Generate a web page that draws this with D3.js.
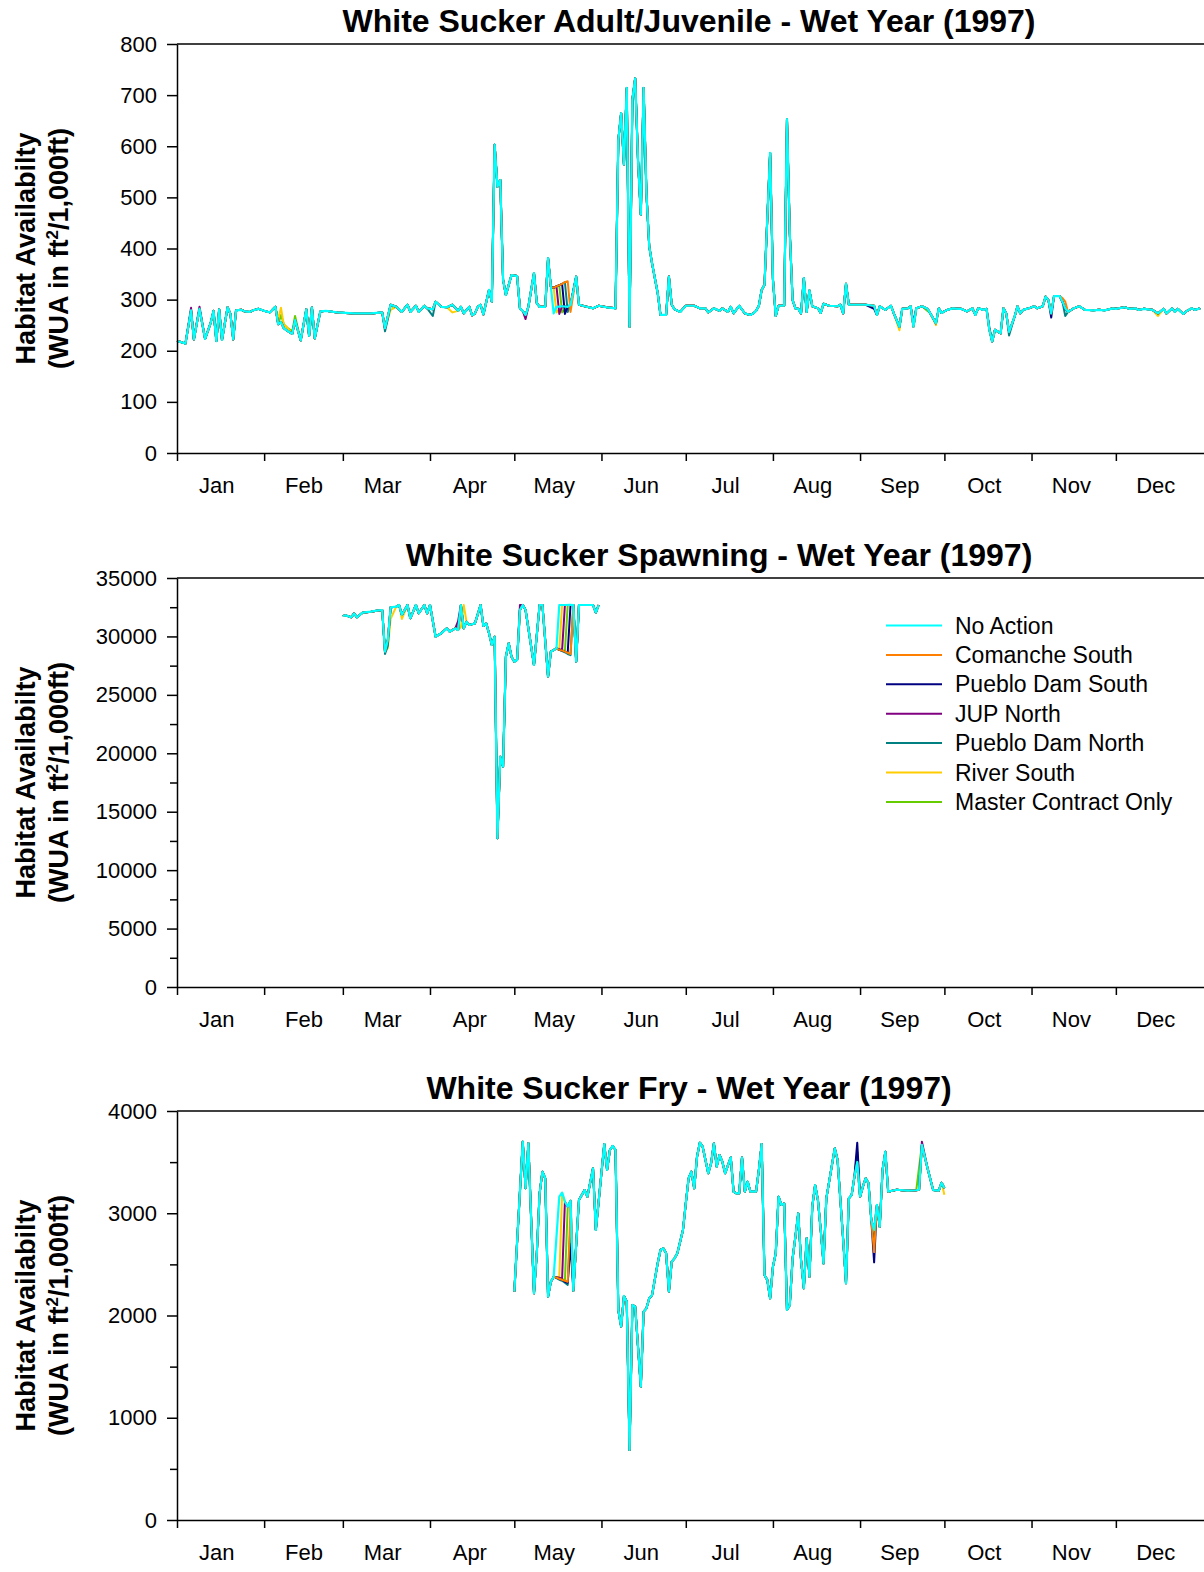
<!DOCTYPE html>
<html><head><meta charset="utf-8">
<script src="https://cdn.jsdelivr.net/npm/d3@7"></script>
<style>
body{margin:0;background:#fff}
svg text{font-family:Arial,"Liberation Sans",sans-serif;fill:#000}
</style>
</head><body>
<svg id="chart" width="1204" height="1572"></svg>
<script>
// ---------------- DATA ----------------
const monthLabels = ["Jan","Feb","Mar","Apr","May","Jun","Jul","Aug","Sep","Oct","Nov","Dec"];
const seriesNames = ["No Action","Comanche South","Pueblo Dam South","JUP North","Pueblo Dam North","River South","Master Contract Only"];
const seriesColors = ["#00FFFF","#FF8000","#000080","#800080","#008080","#FFCC00","#66CC00"];
const panelTitles = [
  "White Sucker Adult/Juvenile - Wet Year (1997)",
  "White Sucker Spawning - Wet Year (1997)",
  "White Sucker Fry - Wet Year (1997)"
];
const yLabelLine1 = "Habitat Availabilty";
const adultTicks = [0,100,200,300,400,500,600,700,800];
const spawnTicks = [0,5000,10000,15000,20000,25000,30000,35000];
const fryTicks = [0,1000,2000,3000,4000];

// [day of year (0 = Jan 1), WUA]
const adultNoAction = [[0,219],[2,216],[3,214],[5,279],[6,222],[8,282],[10,223],[12,255],[13,278],[14,219],[15,281],[16,221],[18,285],[19,272],[20,222],[21,279],[23,280],[24,277],[26,276],[27,279],[29,282],[31,278],[33,275],[35,286],[36,252],[37,256],[38,244],[39,240],[41,233],[42,260],[44,220],[46,281],[47,229],[48,285],[49,224],[51,277],[53,278],[57,275],[63,273],[69,273],[73,275],[74,244],[76,290],[78,286],[80,276],[82,290],[83,276],[85,288],[86,276],[88,288],[89,283],[91,281],[92,296],[94,286],[96,285],[98,290],[100,278],[101,286],[102,273],[104,286],[105,269],[106,273],[107,286],[108,290],[109,271],[111,319],[112,296],[113,603],[114,521],[115,534],[116,339],[117,309],[119,348],[121,346],[122,283],[123,278],[124,270],[125,286],[127,352],[128,293],[129,286],[131,286],[132,381],[133,325],[134,273],[135,286],[137,287],[139,286],[140,290],[142,345],[143,290],[145,287],[148,283],[150,288],[153,285],[156,283],[157,612],[158,665],[159,564],[160,714],[161,247],[162,691],[163,733],[164,573],[165,466],[166,714],[167,508],[168,404],[169,371],[171,313],[172,270],[174,270],[175,345],[176,290],[177,281],[179,276],[181,288],[184,288],[186,283],[188,283],[189,275],[191,283],[193,278],[194,283],[196,276],[197,286],[198,273],[200,288],[202,273],[204,270],[205,273],[206,278],[207,288],[208,319],[209,329],[211,587],[212,340],[213,268],[214,288],[216,288],[217,653],[218,430],[219,299],[220,283],[221,282],[222,273],[223,342],[224,276],[225,318],[226,287],[228,283],[229,274],[230,292],[232,288],[235,287],[236,290],[237,273],[238,331],[239,290],[242,290],[245,290],[248,288],[249,270],[250,287],[252,280],[254,288],[255,273],[257,247],[258,282],[260,283],[261,287],[262,247],[263,283],[265,287],[267,282],[268,273],[270,254],[271,283],[272,274],[274,280],[276,283],[278,282],[279,282],[281,277],[283,283],[284,270],[285,283],[287,280],[288,282],[289,241],[290,218],[291,241],[293,234],[294,283],[295,273],[296,237],[298,267],[299,287],[300,273],[301,280],[303,283],[305,287],[306,283],[308,287],[309,306],[310,299],[311,273],[312,307],[314,307],[315,296],[316,283],[317,276],[319,283],[321,287],[323,280],[326,279],[328,280],[330,279],[333,283],[334,282],[337,285],[339,282],[341,283],[342,280],[344,282],[347,280],[349,273],[351,282],[352,273],[354,283],[355,276],[356,282],[358,272],[359,277],[361,283],[362,280],[364,283]];

// other scenarios: equal to No Action except on these days
const adultOverrides = {
  "Comanche South": [[134,323],[135,326],[136,328],[137,331],[138,334],[139,336],[140,276],[315,303],[316,296]],
  "Pueblo Dam South": [[134,323],[135,326],[136,328],[137,331],[138,272],[248,282],[262,255],[289,245],[311,265]],
  "JUP North": [[5,284],[8,286],[124,262],[134,323],[135,326],[136,272]],
  "Pueblo Dam North": [[74,238],[75,262],[91,268],[134,323],[135,326],[136,328],[137,331],[138,334],[139,276],[296,230],[316,268]],
  "River South": [[36,262],[37,284],[38,250],[39,247],[76,280],[98,275],[134,323],[135,275],[257,240],[270,250],[290,224],[349,268]],
  "Master Contract Only": [[37,270],[38,252],[39,246],[41,238],[42,268],[77,285],[134,323],[135,326],[136,328],[137,275],[267,278]]
};

const spawnNoAction = [[59,31747],[60,31800],[62,31636],[63,31978],[64,31636],[66,32030],[69,32116],[71,32201],[73,32261],[74,28693],[75,29694],[76,32491],[78,32544],[79,32689],[80,31833],[82,32689],[83,31551],[85,32689],[86,31978],[88,32689],[89,31978],[90,32689],[92,29977],[94,30267],[96,30694],[97,30404],[99,30694],[100,30549],[101,32689],[102,30694],[103,31260],[104,30977],[106,31118],[108,32689],[109,30891],[110,31118],[111,30267],[112,29266],[113,29977],[114,12725],[115,19707],[116,18852],[117,28265],[118,29411],[119,28265],[120,27838],[121,27982],[122,32261],[123,32689],[124,32261],[127,27554],[129,32689],[130,32689],[132,26554],[133,28693],[135,28980],[136,32689],[138,32689],[140,32700],[141,32689],[142,27838],[143,32689],[148,32689],[149,32030],[150,32689]];

const spawnOverrides = {
  "Comanche South": [[136,28850],[137,28800],[138,28700],[139,28600],[140,28500],[141,32689]],
  "Pueblo Dam South": [[136,28850],[137,28800],[138,28700],[139,28650],[140,32689]],
  "JUP North": [[100,31300],[122,32689],[136,28900],[137,28850],[138,32689]],
  "Pueblo Dam North": [[74,28500],[75,29200],[136,28850],[137,28750],[138,28650],[139,28500],[140,28400],[141,32689]],
  "River South": [[75,29000],[76,31500],[80,31500],[101,30800],[102,32689],[136,28900],[137,32689]],
  "Master Contract Only": [[136,28850],[137,28800],[138,28750],[139,32689]]
};

const fryNoAction = [[120,2233],[123,3700],[124,3244],[125,3684],[126,2934],[127,2217],[128,2608],[129,3195],[130,3407],[131,3342],[132,2184],[133,2331],[134,2380],[136,3162],[137,3201],[138,3113],[139,3064],[140,3123],[141,2243],[143,3130],[145,3227],[146,3162],[148,3440],[149,2836],[150,3113],[152,3677],[153,3423],[154,3619],[155,3658],[156,3619],[157,2054],[158,1891],[159,2191],[160,2135],[161,685],[162,2103],[163,2086],[165,1304],[166,2037],[167,2070],[168,2168],[169,2200],[171,2510],[172,2641],[173,2657],[174,2608],[175,2233],[176,2526],[177,2559],[178,2608],[180,2836],[181,3097],[182,3342],[183,3407],[184,3244],[185,3553],[186,3690],[187,3651],[189,3391],[190,3488],[191,3684],[192,3456],[193,3570],[194,3504],[195,3391],[197,3547],[198,3211],[199,3195],[200,3195],[201,3547],[202,3211],[203,3309],[204,3211],[206,3211],[207,3423],[208,3677],[209,2396],[210,2347],[211,2168],[212,2477],[213,2608],[214,3162],[215,3081],[216,3097],[217,2054],[218,2103],[219,2559],[220,2771],[221,3000],[222,2543],[223,2266],[224,2755],[225,2380],[226,3064],[227,3276],[228,3130],[229,2836],[230,2510],[231,3146],[232,3309],[234,3635],[235,3521],[236,3130],[237,2738],[238,2315],[239,3146],[240,3178],[241,3358],[242,3500],[243,3162],[244,3260],[245,3342],[246,3293],[247,2934],[248,2836],[249,3081],[250,2868],[251,3423],[252,3602],[253,3211],[256,3230],[260,3221],[263,3225],[264,3230],[265,3668],[267,3440],[269,3227],[271,3221],[272,3299],[273,3244]];

const fryOverrides = {
  "Comanche South": [[136,2360],[137,2350],[138,2340],[139,2330],[140,3050],[248,2620]],
  "Pueblo Dam South": [[136,2360],[137,2350],[138,2330],[139,2320],[140,2700],[242,3690],[248,2520]],
  "JUP North": [[136,2370],[137,2360],[138,3113],[265,3700]],
  "Pueblo Dam North": [[136,2350],[137,2340],[138,2320],[139,2300],[140,2900],[242,3600],[248,2700]],
  "River South": [[136,2370],[137,3201],[273,3180]],
  "Master Contract Only": [[136,2370],[137,2360],[138,2340],[139,3064],[264,3450]]
};

// ---------------- DRAW ----------------
const svg = d3.select("#chart");
const X0 = 177, X1 = 1203;
const dayToDate = d => new Date(Date.UTC(1997, 0, 1 + d));
const x = d3.scaleUtc().domain([Date.UTC(1997,0,1), Date.UTC(1998,0,1)]).range([X0, X1]);
const monthStarts = d3.range(12).map(m => new Date(Date.UTC(1997, m, 1)));
const monthMids = d3.range(12).map(m => new Date(Date.UTC(1997, m, 15)));

function buildSeries(base, overrides) {
  const m = new Map(base.map(p => [p[0], p[1]]));
  (overrides || []).forEach(([d, v]) => m.set(d, v));
  return Array.from(m).sort((a, b) => a[0] - b[0]);
}

const panels = [
  {top:44, bottom:453, max:800, ticks:adultTicks, minor:[], title:panelTitles[0], titleX:689, titleY:32, base:adultNoAction, over:adultOverrides, legend:false},
  {top:578, bottom:987, max:35000, ticks:spawnTicks, minor:[2500,7500,12500,17500,22500,27500,32500], title:panelTitles[1], titleX:719, titleY:566, base:spawnNoAction, over:spawnOverrides, legend:true},
  {top:1111, bottom:1520, max:4000, ticks:fryTicks, minor:[500,1500,2500,3500], title:panelTitles[2], titleX:689, titleY:1099, base:fryNoAction, over:fryOverrides, legend:false}
];

const drawOrder = [6,5,4,3,2,1,0];

panels.forEach(p => {
  const y = d3.scaleLinear().domain([0, p.max]).range([p.bottom, p.top]);
  const g = svg.append("g");

  g.append("text").attr("x", p.titleX).attr("y", p.titleY)
    .attr("text-anchor","middle").attr("font-size",32).attr("font-weight","bold")
    .text(p.title);

  const cy = (p.top + p.bottom) / 2;
  g.append("text").attr("transform",`translate(35,${cy}) rotate(-90)`)
    .attr("text-anchor","middle").attr("font-size",27).attr("font-weight","bold")
    .text(yLabelLine1);
  const t2 = g.append("text").attr("transform",`translate(68,${cy}) rotate(-90)`)
    .attr("text-anchor","middle").attr("font-size",27).attr("font-weight","bold");
  t2.append("tspan").text("(WUA in ft");
  t2.append("tspan").attr("font-size",17).attr("dy",-10).text("2");
  t2.append("tspan").attr("dy",10).text("/1,000ft)");

  const line = d3.line().x(d => x(dayToDate(d[0]))).y(d => y(d[1]));
  drawOrder.forEach(i => {
    const name = seriesNames[i];
    const data = i === 0 ? p.base : buildSeries(p.base, p.over[name]);
    g.append("path").datum(data)
      .attr("fill","none").attr("stroke",seriesColors[i])
      .attr("stroke-width", i === 0 ? 2.2 : 2).attr("stroke-linejoin","round")
      .attr("d", line);
  });

  g.append("line").attr("x1",X0).attr("x2",1204).attr("y1",p.top).attr("y2",p.top)
    .attr("stroke","#000").attr("stroke-width",1.5);

  g.append("g").attr("transform",`translate(${X0},0)`)
    .call(d3.axisLeft(y).tickValues(p.ticks).tickFormat(d3.format("d")).tickSize(10).tickPadding(10).tickSizeOuter(0));
  if (p.minor.length) {
    g.append("g").attr("transform",`translate(${X0},0)`)
      .call(d3.axisLeft(y).tickValues(p.minor).tickFormat("").tickSize(7).tickSizeOuter(0))
      .call(s => s.select(".domain").remove());
  }
  const xa = g.append("g").attr("transform",`translate(0,${p.bottom})`)
    .call(d3.axisBottom(x).tickValues(monthStarts).tickFormat("").tickSize(8).tickSizeOuter(0));
  xa.select(".domain").attr("d", `M${X0},0.5H1204`);
  g.append("g").attr("transform",`translate(0,${p.bottom})`)
    .call(d3.axisBottom(x).tickValues(monthMids).tickFormat((d,i) => monthLabels[i]).tickSize(0).tickPadding(24))
    .call(s => s.select(".domain").remove());

  g.selectAll(".tick text").attr("font-size",22).attr("font-family","Arial, 'Liberation Sans', sans-serif").attr("fill","#000");
  g.selectAll(".domain, .tick line").attr("stroke","#000").attr("stroke-width",1.5);

  if (p.legend) {
    const lg = g.append("g");
    seriesNames.forEach((n, i) => {
      const ly = 625.5 + i * 29.4;
      lg.append("line").attr("x1",886).attr("x2",942).attr("y1",ly).attr("y2",ly)
        .attr("stroke",seriesColors[i]).attr("stroke-width",2);
      lg.append("text").attr("x",955).attr("y",ly).attr("dy","0.35em")
        .attr("font-size",23).text(n);
    });
  }
});
</script>
</body></html>
